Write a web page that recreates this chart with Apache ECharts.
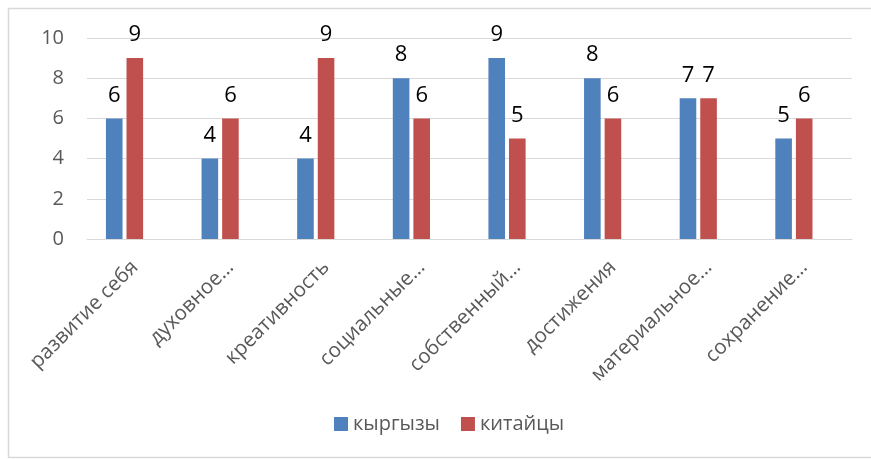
<!DOCTYPE html>
<html><head><meta charset="utf-8">
<script src="https://cdn.jsdelivr.net/npm/echarts@6/dist/echarts.min.js"></script>
<style>html,body{margin:0;padding:0;background:#fff}#c{width:871px;height:459px}</style>
</head><body><div id="c"></div>
<script>
const categories = ['развитие себя','духовное…','креативность','социальные…','собственный…','достижения','материальное…','сохранение…'];
const seriesNames = ['кыргызы','китайцы'];
const kyrgyz = [6,4,4,8,9,8,7,5];
const chinese = [9,6,9,6,5,6,7,6];
const yTicks = {min:0, max:10, interval:2};

const font = 'Open Sans';
const chart = echarts.init(document.getElementById('c'));
const lbl = {show:true, position:'top', distance:12, color:'#000', fontSize:22, fontFamily:font};
chart.setOption({
  animation:false,
  graphic:[{type:'rect', shape:{x:8.5,y:8.5,width:870,height:449}, style:{fill:'none', stroke:'#d9d9d9', lineWidth:1.5}, silent:true}],
  grid:{left:87, right:19, top:38, bottom:220, containLabel:false},
  legend:{top:409, left:329, itemWidth:14, itemHeight:14, itemGap:21, icon:'rect',
    textStyle:{color:'#595959', fontSize:20, fontFamily:font}, data:seriesNames},
  xAxis:{type:'category', data:categories,
    axisLine:{lineStyle:{color:'#d9d9d9', width:1}}, axisTick:{show:false},
    axisLabel:{rotate:45, color:'#595959', fontSize:20.5, fontFamily:font, interval:0, margin:25}},
  yAxis:{type:'value', min:yTicks.min, max:yTicks.max, interval:yTicks.interval,
    axisLine:{show:false}, axisTick:{show:false},
    splitLine:{lineStyle:{color:'#d9d9d9', width:1}},
    axisLabel:{color:'#595959', fontSize:20, fontFamily:font, margin:23}},
  series:[
    {name:seriesNames[0], type:'bar', data:kyrgyz, barWidth:16.6, barGap:'24%', itemStyle:{color:'#4f81bd'}, label:lbl},
    {name:seriesNames[1], type:'bar', data:chinese, barWidth:16.6, barGap:'24%', itemStyle:{color:'#c0504d'}, label:lbl},
    {name:'_empty', type:'bar', data:categories.map(()=>null), barWidth:16.6, barGap:'24%', silent:true}
  ]
});
</script></body></html>
